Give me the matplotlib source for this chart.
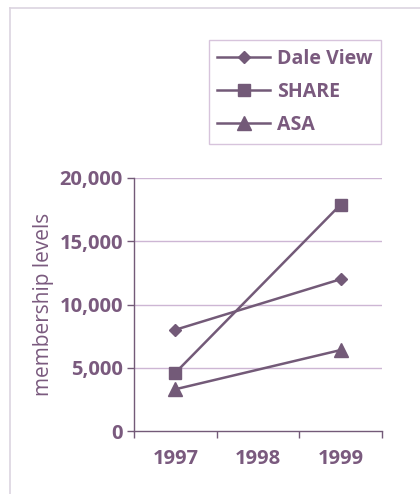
import matplotlib.pyplot as plt
from matplotlib.lines import Line2D

# categories and series
years = ['1997', '1998', '1999']
data_years = ['1997', '1999']
dale_view = [8000, 12000]
share = [4600, 17900]
asa = [3300, 6400]
y_ticks = [0, 5000, 10000, 15000, 20000]

txt_col = '#7a5a7e'
line_col = '#735a78'
grid_col = '#cdb6d4'
frame_col = '#dcd4e0'

plt.rcParams['font.family'] = ['Open Sans', 'DejaVu Sans']

fig = plt.figure(figsize=(4.2, 4.94), dpi=100)
ax = fig.add_axes([0.319, 0.1275, 0.5905, 0.5122])

xs = [years.index(y) + 0.5 for y in data_years]
ax.plot(xs, dale_view, color=line_col, lw=1.8, marker='D', ms=6.5, label='Dale View')
ax.plot(xs, share, color=line_col, lw=1.8, marker='s', ms=9, label='SHARE')
ax.plot(xs, asa, color=line_col, lw=1.8, marker='^', ms=9.5, label='ASA')

ax.set_xlim(0, len(years))
ax.set_ylim(0, 20000)
ax.set_yticks(y_ticks)
ax.set_yticklabels([f'{v:,}' for v in y_ticks])
ax.set_xticks(range(len(years) + 1))
ax.set_xticklabels([])
ax.set_xticks([i + 0.5 for i in range(len(years))], minor=True)
ax.set_xticklabels(years, minor=True)
ax.tick_params(axis='x', which='major', length=5, width=1, color=line_col, direction='out')
ax.tick_params(axis='x', which='minor', length=0, pad=13, labelsize=14.5, labelcolor=txt_col)
ax.tick_params(axis='y', length=5, width=1, color=line_col, labelsize=14.5, labelcolor=txt_col, pad=3)
for lab in ax.get_yticklabels() + ax.get_xticklabels(minor=True):
    lab.set_fontweight('bold')

for v in y_ticks[1:]:
    ax.axhline(v, color=grid_col, lw=1, zorder=0)
for s in ['top', 'right']:
    ax.spines[s].set_visible(False)
for s in ['left', 'bottom']:
    ax.spines[s].set_color(line_col)
    ax.spines[s].set_linewidth(1)

ax.set_ylabel('membership levels', color=txt_col, fontsize=15, labelpad=4)

leg = ax.legend(loc='upper right', bbox_to_anchor=(0.907, 0.919), bbox_transform=fig.transFigure,
                borderaxespad=0, prop={'size': 14, 'weight': 'bold'}, frameon=True, fancybox=False,
                handlelength=2.7, handletextpad=0.35, labelspacing=0.68, borderpad=0.45)
leg.get_frame().set_edgecolor(grid_col)
leg.get_frame().set_linewidth(1)
for t in leg.get_texts():
    t.set_color(txt_col)

# outer frame (left and top edges)
fig.add_artist(Line2D([0.024, 0.024], [0, 0.984], color=frame_col, lw=1.2, transform=fig.transFigure))
fig.add_artist(Line2D([0.024, 1], [0.984, 0.984], color=frame_col, lw=1.2, transform=fig.transFigure))

fig.savefig('out.png', dpi=100)
